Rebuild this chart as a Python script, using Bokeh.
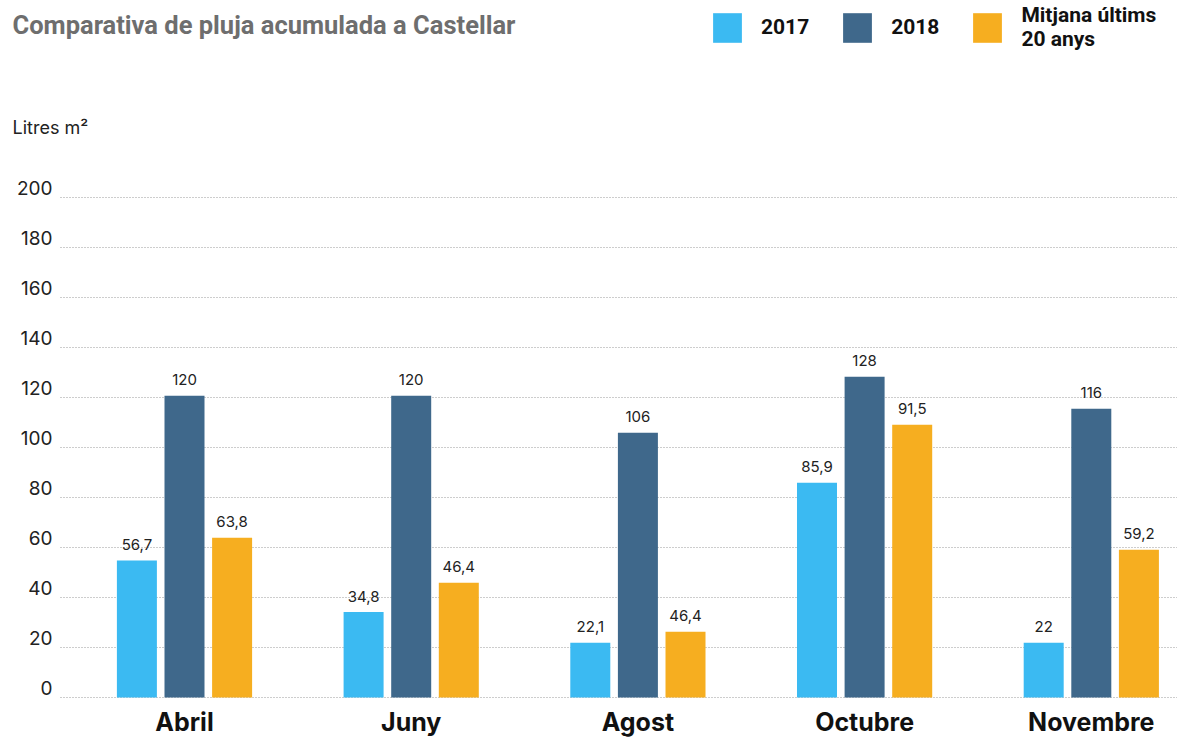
from bokeh.plotting import figure
from bokeh.models import Range1d, Label, Legend, LegendItem, ColumnDataSource
from bokeh.transform import dodge
from bokeh.core.properties import value
from bokeh.embed import file_html
from bokeh.resources import INLINE

# ---- data ----
months = ["Abril", "Juny", "Agost", "Octubre", "Novembre"]
series_names = ["2017", "2018", "Mitjana últims\n20 anys"]
colors = ["#3BBAF2", "#3F688B", "#F6AE20"]
# bar heights as drawn in the picture
vals_2017 = [54.8, 34.2, 21.9, 85.9, 21.9]
vals_2018 = [120.7, 120.7, 105.9, 128.3, 115.5]
vals_avg = [63.9, 45.9, 26.3, 109.1, 59.1]
# printed value labels
labels_2017 = ["56,7", "34,8", "22,1", "85,9", "22"]
labels_2018 = ["120", "120", "106", "128", "116"]
labels_avg = ["63,8", "46,4", "46,4", "91,5", "59,2"]
y_ticks = [0, 20, 40, 60, 80, 100, 120, 140, 160, 180, 200]
y_tick_labels = [str(v) for v in y_ticks]
title_text = "Comparativa de pluja acumulada a Castellar"
unit_text = "Litres m²"

# ---- layout constants (pixels) ----
W_PX, H_PX = 1177, 739
X0_PX, UNIT = 184.0, 226.7      # centre of first group, px per category
Y0_PX, PPU = 697.0, 2.5         # zero line, px per litre


def xd(px):
    return (px - X0_PX) / UNIT


def yd(py):
    return (Y0_PX - py) / PPU


idx = list(range(len(months)))
src = ColumnDataSource(dict(x=idx, m=months, v2017=vals_2017, v2018=vals_2018, vavg=vals_avg,
                            l2017=labels_2017, l2018=labels_2018, lavg=labels_avg))
tick_src = ColumnDataSource(dict(y=y_ticks, t=y_tick_labels))

p = figure(frame_width=W_PX, frame_height=H_PX, output_backend="svg", toolbar_location=None,
           x_range=Range1d(xd(0), xd(W_PX)), y_range=Range1d(yd(H_PX), yd(0)),
           x_axis_location=None, y_axis_location=None,
           min_border=0)
p.outline_line_color = None
p.background_fill_color = "white"
p.border_fill_color = "white"
p.xgrid.visible = False
p.ygrid.visible = False

# dotted gridlines
p.segment(x0=xd(60), x1=xd(W_PX), y0="y", y1="y", source=tick_src,
          line_color="#9a9a9a", line_width=1, line_dash="1 2")
# y tick labels
p.text(x=xd(52), y="y", text="t", source=tick_src,
       text_font=value("Inter"), text_font_size="19px", text_color="#222222",
       text_align="right", text_baseline="alphabetic", y_offset=-10)

OFF = 0.21
BW = 40 / UNIT
r1 = p.vbar(x=dodge("x", -OFF, range=p.x_range), top="v2017", width=BW, bottom=0,
            source=src, color=colors[0], line_color=None)
r2 = p.vbar(x=dodge("x", 0.0, range=p.x_range), top="v2018", width=BW, bottom=0,
            source=src, color=colors[1], line_color=None)
r3 = p.vbar(x=dodge("x", OFF, range=p.x_range), top="vavg", width=BW, bottom=0,
            source=src, color=colors[2], line_color=None)

for off, ycol, tcol in [(-OFF, "v2017", "l2017"), (0.0, "v2018", "l2018"), (OFF, "vavg", "lavg")]:
    p.text(x=dodge("x", off, range=p.x_range), y=ycol, text=tcol, source=src,
           text_font=value("Inter"), text_font_size="15px", text_color="#222222",
           text_align="center", text_baseline="alphabetic", y_offset=-16)

# category labels
p.text(x="x", y=0, text="m", source=src, y_offset=24,
       text_font=value("Inter"), text_font_style="bold", text_font_size="25px",
       text_color="#111111", text_align="center", text_baseline="alphabetic")

legend = Legend(items=[LegendItem(label=series_names[0], renderers=[r1]),
                       LegendItem(label=series_names[1], renderers=[r2]),
                       LegendItem(label=series_names[2], renderers=[r3])],
                orientation="horizontal", location=(709, H_PX - 51),
                glyph_width=36, glyph_height=37, label_standoff=16, spacing=30,
                padding=0, margin=0, border_line_color=None, background_fill_alpha=0,
                label_text_font="Roboto", label_text_font_style="bold",
                label_text_font_size="21px", label_text_color="#111111")
p.add_layout(legend)

p.add_layout(Label(x=xd(12), y=yd(24), text=title_text,
                   text_font="Roboto", text_font_style="bold", text_font_size="25.5px",
                   text_color="#6E6E6E", text_baseline="alphabetic"))
p.add_layout(Label(x=xd(12), y=yd(127), text=unit_text,
                   text_font="Inter", text_font_size="18px",
                   text_color="#222222", text_baseline="alphabetic"))

open("out.html", "w").write(file_html(p, INLINE))
